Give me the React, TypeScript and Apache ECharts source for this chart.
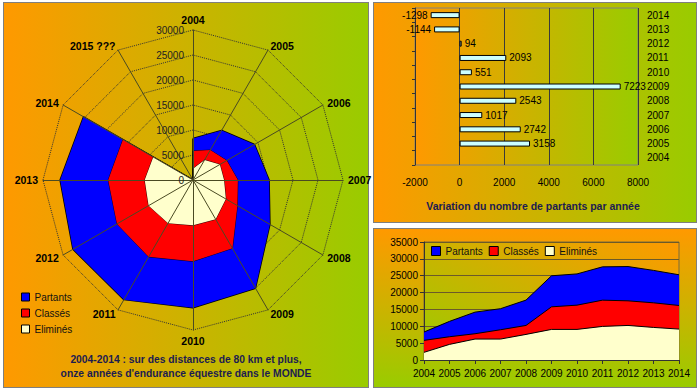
import React, { useEffect, useRef } from 'react';
import * as echarts from 'echarts';

const years = ['2004', '2005', '2006', '2007', '2008', '2009', '2010', '2011', '2012', '2013', '2014'];
const extraRadarAxis = '2015 ???';
const value2015 = 0;
const partants = [8300, 11458, 14200, 15217, 17760, 24983, 25534, 27627, 27721, 26577, 25279];
const classes = [5820, 6900, 7790, 8970, 10250, 15770, 16270, 17750, 17550, 16960, 16170];
const elimines = [2270, 4630, 6210, 6210, 7590, 9070, 9070, 9960, 10250, 9660, 9170];
const variation: (number | null)[] = [null, 3158, 2742, 1017, 2543, 7223, 551, 2093, 94, -1144, -1298];
const seriesNames = ['Partants', 'Classés', 'Eliminés'];
const seriesColors = ['#0000ff', '#ff0000', '#ffffcc'];

const FONT = "'Liberation Sans', Arial, sans-serif";
const ORANGE = '#FF9900';
const GREEN = '#99CC00';
const plain = (v: number | string) => String(v);

// ECharts radar goes counter-clockwise; Excel goes clockwise
const ccw = <T,>(arr: T[]): T[] => [arr[0], ...arr.slice(1).reverse()];
const radarAxes = ccw([...years, extraRadarAxis]);

function buildOption() {
  const radarBase = {
    center: [193, 180],
    radius: 150,
    startAngle: 90,
    shape: 'polygon',
    splitNumber: 6,
  };
  const radarSeriesData = [partants, classes, elimines].map((arr, i) => ({
    name: seriesNames[i],
    value: ccw([...arr, value2015]),
    itemStyle: { color: seriesColors[i] },
    areaStyle: { color: seriesColors[i], opacity: 1 },
    lineStyle: { color: '#000', width: i === 0 ? 1.5 : 0.8 },
  }));

  return {
    animation: false,
    backgroundColor: 'transparent',
    textStyle: { fontFamily: FONT },
    title: [
      {
        text: "2004-2014 : sur des distances de 80 km et plus,\nonze années d'endurance équestre dans le MONDE",
        left: 186,
        top: 352,
        padding: 0,
        textAlign: 'center',
        textStyle: { fontSize: 10.3, fontWeight: 'bold', color: '#1c1c50', lineHeight: 14, fontFamily: FONT },
      },
      {
        text: 'Variation du nombre de partants par année',
        left: 533,
        top: 200,
        padding: 0,
        textAlign: 'center',
        textStyle: { fontSize: 10.5, fontWeight: 'bold', color: '#1c1c50', fontFamily: FONT },
      },
    ],
    legend: [
      {
        data: seriesNames,
        orient: 'vertical',
        left: 21,
        top: 290,
        padding: 0,
        itemWidth: 8,
        itemHeight: 8,
        itemGap: 2,
        icon: 'rect',
        selectedMode: false,
        itemStyle: { borderColor: '#000', borderWidth: 1 },
        textStyle: { fontSize: 10, color: '#111', lineHeight: 14, fontFamily: FONT },
      },
      {
        data: seriesNames,
        orient: 'horizontal',
        left: 431,
        top: 246,
        padding: 0,
        itemWidth: 9,
        itemHeight: 9,
        itemGap: 6,
        icon: 'rect',
        selectedMode: false,
        itemStyle: { borderColor: '#000', borderWidth: 1 },
        textStyle: { fontSize: 10, color: '#111', fontFamily: FONT },
      },
    ],
    radar: [
      {
        ...radarBase,
        z: 0,
        indicator: radarAxes.map((n) => ({ name: n, min: 0, max: 30000 })),
        axisName: { color: '#000', fontWeight: 'bold', fontSize: 10.5, fontFamily: FONT },
        nameGap: 5,
        axisLine: { show: false },
        axisTick: { show: false },
        axisLabel: { show: false },
        splitLine: { show: true, lineStyle: { color: '#333', type: 'dotted', width: 1 } },
        splitArea: { show: false },
      },
      {
        ...radarBase,
        z: 5,
        indicator: radarAxes.map((n, k) => ({
          name: '',
          min: 0,
          max: 30000,
          axisLabel:
            k === 0
              ? { show: true, fontSize: 10, color: '#222', margin: 9, fontFamily: FONT, formatter: plain }
              : { show: false },
        })),
        axisName: { show: false },
        axisLine: { show: true, lineStyle: { color: '#4a4a22', width: 1 } },
        axisTick: { show: false },
        axisLabel: { show: false, formatter: plain },
        splitLine: { show: false },
        splitArea: { show: false },
      },
    ],
    grid: [
      {
        left: 415,
        top: 8,
        width: 223,
        height: 157,
        show: true,
        borderColor: '#808080',
        borderWidth: 1,
        backgroundColor: new echarts.graphic.LinearGradient(0, 0, 1, 0, [
          { offset: 0, color: ORANGE },
          { offset: 1, color: GREEN },
        ]),
      },
      {
        left: 424,
        top: 242,
        width: 255,
        height: 118,
        show: true,
        borderColor: '#7a6a3a',
        borderWidth: 1,
        backgroundColor: new echarts.graphic.LinearGradient(0, 1, 1, 0, [
          { offset: 0, color: GREEN },
          { offset: 1, color: ORANGE },
        ]),
      },
    ],
    xAxis: [
      {
        type: 'value',
        gridIndex: 0,
        min: -2000,
        max: 8000,
        interval: 2000,
        axisLine: { show: false },
        axisTick: { show: false },
        axisLabel: { fontSize: 10, color: '#000', margin: 12, fontFamily: FONT, formatter: plain },
        splitLine: { show: true, lineStyle: { color: '#3a3a3a', width: 1 } },
      },
      {
        type: 'category',
        gridIndex: 1,
        data: years,
        boundaryGap: false,
        axisLine: { show: true, lineStyle: { color: '#333', width: 1 } },
        axisTick: { show: true, length: 4, interval: 0, lineStyle: { color: '#333' } },
        axisLabel: { fontSize: 10, color: '#000', margin: 8, interval: 0, hideOverlap: false, fontFamily: FONT },
        splitLine: { show: false },
      },
    ],
    yAxis: [
      {
        type: 'category',
        gridIndex: 0,
        data: years,
        position: 'right',
        axisLine: { show: false },
        axisTick: { show: false },
        axisLabel: { fontSize: 10, color: '#000', margin: 9, interval: 0, fontFamily: FONT },
        splitLine: { show: false },
      },
      {
        type: 'category',
        gridIndex: 0,
        data: years,
        position: 'left',
        axisLine: { show: true, onZero: true, lineStyle: { color: '#333', width: 1 } },
        axisTick: { show: true, length: 3, interval: 0, lineStyle: { color: '#333' } },
        axisLabel: { show: false },
        splitLine: { show: false },
      },
      {
        type: 'value',
        gridIndex: 1,
        min: 0,
        max: 35000,
        interval: 5000,
        axisLine: { show: true, lineStyle: { color: '#333', width: 1 } },
        axisTick: { show: true, length: 4, lineStyle: { color: '#333' } },
        axisLabel: { fontSize: 10, color: '#000', margin: 6, fontFamily: FONT, formatter: plain },
        splitLine: { show: true, lineStyle: { color: '#6b5a2a', width: 1 } },
      },
    ],
    series: [
      {
        type: 'radar',
        radarIndex: 0,
        symbol: 'none',
        z: 2,
        data: radarSeriesData,
      },
      {
        type: 'bar',
        name: 'Variation',
        xAxisIndex: 0,
        yAxisIndex: 0,
        barWidth: 6,
        itemStyle: { color: '#CCFFFF', borderColor: '#000', borderWidth: 1 },
        label: { show: true, fontSize: 10, color: '#000', distance: 3, fontFamily: FONT, formatter: (p: any) => String(p.value) },
        data: variation.map((v) =>
          v == null ? '-' : { value: v, label: { position: v < 0 ? 'left' : 'right' } }
        ),
      },
      ...[partants, classes, elimines].map((arr, i) => ({
        type: 'line',
        name: seriesNames[i],
        xAxisIndex: 1,
        yAxisIndex: 2,
        symbol: 'none',
        color: seriesColors[i],
        itemStyle: { color: seriesColors[i] },
        lineStyle: { color: '#000', width: 1 },
        areaStyle: { color: seriesColors[i], opacity: 1 },
        data: arr,
      })),
    ],
  };
}

export default function App() {
  const ref = useRef<HTMLDivElement>(null);
  useEffect(() => {
    if (!ref.current) return;
    const chart = echarts.init(ref.current, null, { renderer: 'svg' });
    chart.setOption(buildOption() as any);
    return () => chart.dispose();
  }, []);
  const panel = (left: number, top: number, width: number, height: number, dir: string): React.CSSProperties => ({
    position: 'absolute',
    left,
    top,
    width,
    height,
    boxSizing: 'border-box',
    border: '1px solid #7f7f7f',
    background: `linear-gradient(${dir}, ${ORANGE}, ${GREEN})`,
  });
  return (
    <div style={{ position: 'absolute', left: 0, top: 0, width: 700, height: 391, background: '#fff', overflow: 'hidden' }}>
      <div style={panel(3, 2, 366, 386, 'to right')} />
      <div style={panel(373, 2, 324, 221, 'to right')} />
      <div style={panel(373, 228, 324, 160, 'to bottom')} />
      <div ref={ref} style={{ position: 'absolute', left: 0, top: 0, width: 700, height: 391 }} />
    </div>
  );
}
